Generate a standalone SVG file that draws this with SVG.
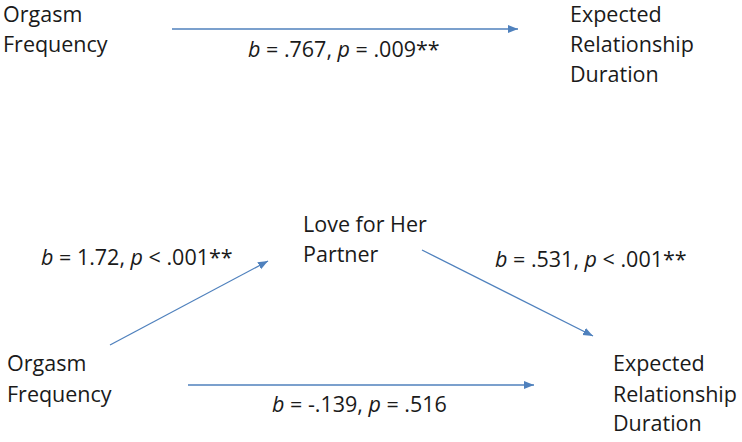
<svg xmlns="http://www.w3.org/2000/svg" width="742" height="442" viewBox="0 0 742 442">
<defs>
<style>
text { font-family: "Open Sans", "Liberation Sans", sans-serif; font-size: 21.5px; fill: #1a1a1a; }
.i { font-style: italic; }
.edge { stroke: #4f81bd; stroke-width: 1.3; fill: none; marker-end: url(#ah); }
</style>
<marker id="ah" markerUnits="userSpaceOnUse" markerWidth="12" markerHeight="10" refX="10" refY="4" orient="auto">
<path d="M0,0 L10,4 L0,8 Z" fill="#4f81bd"/>
</marker>
</defs>
<rect width="742" height="442" fill="#ffffff"/>
<g id="connectors">
<line class="edge" x1="172" y1="29" x2="518" y2="29"/>
<line class="edge" x1="110" y1="345" x2="268" y2="261"/>
<line class="edge" x1="422" y1="250" x2="593" y2="336"/>
<line class="edge" x1="188" y1="385" x2="534" y2="385"/>
</g>
<g id="top-orgasm-frequency">
<text x="3" y="22">Orgasm</text>
<text x="3" y="52">Frequency</text>
</g>
<g id="top-expected-duration">
<text x="570" y="22">Expected</text>
<text x="570" y="52">Relationship</text>
<text x="570" y="82">Duration</text>
</g>
<g id="label-top">
<text x="248" y="57"><tspan class="i">b</tspan> = .767, <tspan class="i">p</tspan> = .009**</text>
</g>
<g id="love-for-her-partner">
<text x="303" y="232">Love for Her</text>
<text x="303" y="262">Partner</text>
</g>
<g id="label-a">
<text x="41" y="265"><tspan class="i">b</tspan> = 1.72, <tspan class="i">p</tspan> &lt; .001**</text>
</g>
<g id="label-b">
<text x="495" y="267"><tspan class="i">b</tspan> = .531, <tspan class="i">p</tspan> &lt; .001**</text>
</g>
<g id="bottom-orgasm-frequency">
<text x="7" y="371">Orgasm</text>
<text x="7" y="402">Frequency</text>
</g>
<g id="bottom-expected-duration">
<text x="613" y="371">Expected</text>
<text x="613" y="402">Relationship</text>
<text x="613" y="431">Duration</text>
</g>
<g id="label-c">
<text x="272" y="412"><tspan class="i">b</tspan> = -.139, <tspan class="i">p</tspan> = .516</text>
</g>
</svg>
